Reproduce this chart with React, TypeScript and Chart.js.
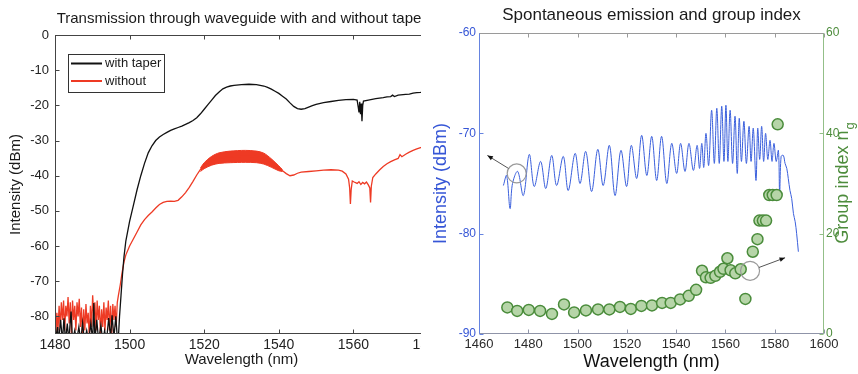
import React, { useEffect, useRef } from "react";
import { Chart, registerables } from "chart.js";

Chart.register(...registerables);

const FONT = "'Liberation Sans', Arial, Helvetica, sans-serif";

// ---------------- Left panel data ----------------
const leftTitle = "Transmission through waveguide with and without taper";
const leftXTicks = [1480, 1500, 1520, 1540, 1560, 1580];
const leftYTicks = [0, -10, -20, -30, -40, -50, -60, -70, -80];

const taperWl = [
  1480.0, 1480.3, 1480.7, 1481.0, 1481.5, 1482.0, 1482.4, 1482.8, 1483.3, 1483.7,
  1484.3, 1484.7, 1485.3, 1485.8, 1486.4, 1486.9, 1487.4, 1487.9, 1488.5, 1489.0,
  1489.6, 1490.1, 1490.4, 1490.7, 1491.2, 1491.7, 1492.3, 1492.8, 1493.3, 1493.8,
  1494.4, 1494.9, 1495.3, 1495.8, 1496.3, 1496.7, 1497.0, 1497.3, 1497.7, 1498.1,
  1498.5, 1499, 1500, 1501, 1502, 1503, 1504, 1505, 1506, 1507,
  1508, 1509, 1510, 1511, 1512, 1513, 1514, 1515, 1516, 1517,
  1518, 1519, 1520, 1521, 1522, 1523, 1524, 1525, 1526, 1527,
  1528, 1530, 1532, 1534, 1536, 1537, 1538, 1539, 1540, 1541,
  1542, 1543, 1544, 1545, 1546, 1547, 1548, 1549, 1550, 1552,
  1554, 1556, 1558, 1560, 1561, 1561.3, 1561.5, 1561.7, 1561.9, 1562.1,
  1562.3, 1562.5, 1562.7, 1564, 1566, 1568, 1569, 1570, 1570.5, 1571,
  1572, 1574, 1575, 1576, 1577, 1578, 1580,
];
const taperDb = [
  -80, -87, -83, -87, -81, -87, -80.5, -87, -82, -87,
  -78.6, -87, -84, -87, -83, -87, -81.9, -87, -84, -87,
  -82, -87, -76.2, -87, -81, -87, -82.5, -87, -84, -87,
  -80.5, -86, -79.7, -86, -80, -86, -86, -80, -74, -68,
  -63, -58.5, -53, -48.5, -44, -40, -36.5, -33.5, -31.5, -30,
  -29, -28.3, -27.7, -27.1, -26.7, -26.3, -25.9, -25.4, -24.9, -24.3,
  -23.5, -22.4, -21.1, -19.8, -18.5, -17.2, -16.2, -15.3, -14.8, -14.5,
  -14.3, -14.1, -14.0, -14.1, -14.5, -14.9, -15.4, -16.0, -16.6, -17.4,
  -18.2, -19.3, -20.3, -20.9, -21.1, -20.9, -20.5, -20.1, -19.7, -19.2,
  -18.9, -18.6, -18.4, -18.3, -18.5, -20.5, -22.0, -19.0, -22.5, -19.5,
  -24.5, -20.0, -18.8, -18.5, -18.1, -17.8, -17.6, -17.5, -17.1, -17.5,
  -17.1, -16.9, -16.8, -16.5, -16.4, -16.3, -16.0,
];

const noTaperWl = [
  1480.0, 1480.2, 1480.5, 1480.8, 1481.1, 1481.4, 1481.7, 1482.0, 1482.3, 1482.6,
  1482.9, 1483.2, 1483.5, 1483.8, 1484.1, 1484.4, 1484.7, 1485.0, 1485.3, 1485.6,
  1485.9, 1486.2, 1486.5, 1486.8, 1487.1, 1487.4, 1487.7, 1488.0, 1488.3, 1488.6,
  1488.9, 1489.2, 1489.5, 1489.8, 1490.1, 1490.4, 1490.7, 1491.0, 1491.3, 1491.6,
  1491.9, 1492.2, 1492.5, 1492.8, 1493.1, 1493.4, 1493.7, 1494.0, 1494.3, 1494.6,
  1494.9, 1495.2, 1495.5, 1495.8, 1496.1, 1496.4, 1496.7, 1497.0, 1497.5, 1498.0,
  1498.5, 1499, 1500, 1501, 1502, 1503, 1504, 1505, 1506, 1507,
  1508, 1509, 1510, 1511, 1512, 1513, 1514, 1515, 1516, 1517,
  1518, 1519, 1520, 1522, 1524, 1526, 1528, 1530, 1532, 1534,
  1536, 1538, 1540, 1541, 1542, 1543, 1544, 1545, 1546, 1548,
  1550, 1552, 1554, 1556, 1557, 1558, 1558.7, 1559.0, 1559.2, 1559.4,
  1559.7, 1560.2, 1561.0, 1561.5, 1562.0, 1562.5, 1563.0, 1563.5, 1564.0, 1564.4,
  1564.6, 1564.8, 1565.2, 1566, 1567, 1568, 1569, 1570, 1571, 1572,
  1572.5, 1573, 1574, 1575, 1576, 1577, 1578, 1579, 1580,
];
const noTaperDb = [
  -80, -86, -79, -84, -77, -83, -76, -81, -75.5, -84,
  -77, -80, -74.5, -82, -76, -85, -75.5, -81, -77, -84,
  -76, -80, -75, -83, -77.5, -86, -78, -84, -76.5, -82,
  -79, -86, -77, -83, -74, -80, -76, -84, -75.5, -81,
  -77, -85, -78, -83, -76, -84, -77.5, -81, -75.5, -84,
  -77, -85, -76.5, -81, -77, -83, -76, -74, -71, -67.5,
  -64.5, -62.5, -60, -58, -56, -54, -52.5, -51.3, -50.3, -49.2,
  -48.2, -47.6, -47.3, -47.2, -47.3, -47.0, -46.0, -44.8, -43.3, -41.6,
  -39.8, -38.2, -37.0, -35.6, -35.0, -34.7, -34.6, -34.5, -34.5, -34.6,
  -35.1, -36.4, -37.9, -38.6, -39.4, -40.0, -39.8, -39.3, -39.0, -38.8,
  -38.6, -38.4, -38.3, -38.4, -38.7, -39.5, -41.0, -43.5, -48.0, -44.0,
  -41.5, -41.8, -42.2, -41.7, -42.5, -41.9, -42.3, -41.8, -42.6, -43.5,
  -47.6, -43.0, -40.5, -39.5, -38.4, -37.4, -36.6, -36.0, -35.5, -35.1,
  -34.0, -34.6, -33.9, -33.3, -32.8, -32.4, -32.0, -31.8, -31.6,
];

// fringe band of the "without" trace
const bandWl = [1519, 1520, 1522, 1524, 1527, 1531, 1534, 1536, 1538, 1540, 1541];
const bandUpper = [-37.8, -36.3, -34.5, -33.5, -33.0, -32.8, -33.0, -33.6, -35.2, -37.2, -38.3];
const bandLower = [-38.8, -38.0, -37.0, -36.5, -36.3, -36.2, -36.3, -36.7, -37.6, -38.6, -38.8];

// ---------------- Right panel data ----------------
const rightTitle = "Spontaneous emission and group index";
const rightXTicks = [1460, 1480, 1500, 1520, 1540, 1560, 1580, 1600];
const rightYTicks = [-90, -80, -70, -60];
const rightY1Ticks = [0, 20, 40, 60];

const emissionWl = [
  1469.9, 1471.2, 1472.6, 1473.6, 1475.7, 1478.0, 1480.4, 1482.4, 1485.0, 1487.1,
  1489.5, 1491.5, 1494.2, 1496.2, 1499.0, 1501.0, 1503.3, 1505.7, 1508.2, 1510.4,
  1512.9, 1515.2, 1517.6, 1519.9, 1521.8, 1524.0, 1526.0, 1528.1, 1530.1, 1532.1,
  1534.1, 1536.2, 1538.2, 1540.2, 1541.8, 1543.6, 1545.2, 1547.0, 1548.5, 1549.5,
  1550.4, 1551.2, 1552.1, 1553.2, 1554.4, 1555.5, 1556.5, 1557.5, 1558.5, 1559.4,
  1560.2, 1561.0, 1561.9, 1562.9, 1563.9, 1564.8, 1565.6, 1566.5, 1567.5, 1568.5,
  1569.6, 1570.4, 1571.3, 1572.4, 1573.1, 1573.9, 1574.7, 1575.5, 1576.3, 1577.2,
  1578.1, 1578.9, 1579.7, 1580.6, 1581.5, 1582.0, 1582.6, 1583.5, 1584.2, 1584.9,
  1585.5, 1586.2, 1586.9, 1587.6, 1588.3, 1588.9, 1589.6,
];
const emissionDb = [
  -75.2, -74.2, -77.5, -75.0, -73.8, -76.2, -72.1, -75.3, -72.8, -75.5,
  -72.2, -75.2, -72.3, -75.7, -72.0, -75.0, -71.8, -75.8, -71.6, -75.2,
  -71.2, -76.2, -71.7, -75.3, -71.2, -74.5, -70.2, -74.2, -70.3, -74.7,
  -70.3, -75.0, -71.0, -74.0, -71.0, -73.8, -71.0, -73.7, -71.2, -73.5,
  -71.0, -73.4, -70.0, -73.2, -67.7, -73.0, -67.5, -73.0, -67.3, -72.8,
  -67.2, -72.8, -67.7, -73.0, -68.3, -74.0, -68.5, -72.8, -68.8, -73.0,
  -69.3, -72.8, -69.5, -74.7, -69.5, -72.6, -69.3, -72.8, -70.0, -72.6,
  -70.7, -72.8, -71.0, -72.8, -71.7, -76.0, -72.3, -72.2, -73.0, -73.5,
  -74.5, -75.7, -76.5, -78.0, -78.8, -80.0, -81.8,
];

const groupWl = [
  1471.5, 1475.5, 1480.2, 1484.8, 1489.6, 1494.5, 1498.6, 1503.4, 1508.3, 1512.9,
  1517.2, 1521.6, 1525.9, 1530.2, 1534.3, 1537.8, 1541.6, 1545.1, 1548.1, 1550.5,
  1552.1, 1554.0, 1555.9, 1557.8, 1559.2, 1560.8, 1562.1, 1564.0, 1566.2, 1568.1,
  1571.1, 1573.0, 1573.8, 1575.2, 1576.5, 1577.8, 1579.2, 1580.8, 1581.2,
];
const groupIndex = [
  5.3, 4.6, 4.8, 4.6, 4.0, 5.9, 4.3, 4.7, 4.9, 4.9,
  5.4, 5.0, 5.6, 5.7, 6.2, 6.2, 6.9, 7.6, 8.8, 12.6,
  11.3, 11.2, 11.6, 12.4, 13.0, 15.1, 12.7, 12.1, 12.9, 7.0,
  16.4, 18.9, 22.6, 22.6, 22.6, 27.7, 27.7, 27.7, 41.8,
];

// callout circles with arrows (data coordinates)
const calloutScale = ["y", "y1"];
const calloutX = [1475.3, 1570.0];
const calloutY = [-74.0, 12.6];
const calloutToX = [1463.4, 1584.2];
const calloutToY = [-72.2, 15.2];

// ---------------- helpers & plugins ----------------
const toPoints = (xs: number[], ys: number[]) => xs.map((x, i) => ({ x, y: ys[i] }));
const fixedTicks = (vals: number[]) => (s: any) => {
  s.ticks = vals.map((v) => ({ value: v }));
};
const plain = (v: any) => String(v);

const framePlugin = {
  id: "frame",
  afterDatasetsDraw(chart: any, _a: any, o: any) {
    const { ctx, chartArea: a, scales } = chart;
    const L = o.tickLength;
    const l = Math.round(a.left) + 0.5;
    const r = Math.round(a.right) - 0.5;
    const t = Math.round(a.top) + 0.5;
    const b = Math.round(a.bottom) - 0.5;
    const seg = (x1: number, y1: number, x2: number, y2: number, c: string) => {
      ctx.strokeStyle = c;
      ctx.beginPath();
      ctx.moveTo(x1, y1);
      ctx.lineTo(x2, y2);
      ctx.stroke();
    };
    ctx.save();
    ctx.lineWidth = 1;
    const xs = scales.x;
    xs.ticks.forEach((tk: any) => {
      const px = Math.round(xs.getPixelForValue(tk.value)) + 0.5;
      seg(px, t, px, t + L, o.topColor);
      seg(px, b, px, b - L, o.bottomColor);
    });
    const yl = scales[o.leftScale];
    yl.ticks.forEach((tk: any) => {
      const py = Math.round(yl.getPixelForValue(tk.value)) + 0.5;
      seg(l, py, l + L, py, o.leftColor);
      if (!o.rightScale) seg(r, py, r - L, py, o.rightColor);
    });
    if (o.rightScale) {
      const yr = scales[o.rightScale];
      yr.ticks.forEach((tk: any) => {
        const py = Math.round(yr.getPixelForValue(tk.value)) + 0.5;
        seg(r, py, r - L, py, o.rightColor);
      });
    }
    seg(l - 0.5, t, r + 0.5, t, o.topColor);
    seg(l - 0.5, b, r + 0.5, b, o.bottomColor);
    seg(l, t, l, b, o.leftColor);
    seg(r, t, r, b, o.rightColor);
    ctx.restore();
  },
};

const boxLegendPlugin = {
  id: "boxLegend",
  afterDatasetsDraw(chart: any, _a: any, o: any) {
    if (!o || !o.display) return;
    const { ctx, chartArea: a } = chart;
    const items = chart.data.datasets.filter((d: any) => d.showInLegend);
    const x0 = Math.round(a.left + o.offsetX);
    const y0 = Math.round(a.top + o.offsetY);
    ctx.save();
    ctx.fillStyle = "#ffffff";
    ctx.fillRect(x0, y0, o.width, o.height);
    ctx.strokeStyle = "#333333";
    ctx.lineWidth = 1;
    ctx.strokeRect(x0 + 0.5, y0 + 0.5, o.width, o.height);
    ctx.font = `${o.fontSize}px ${FONT}`;
    ctx.textBaseline = "middle";
    ctx.textAlign = "left";
    items.forEach((d: any, i: number) => {
      const cy = y0 + o.rowTop + i * o.rowGap;
      ctx.strokeStyle = d.borderColor;
      ctx.lineWidth = 2;
      ctx.beginPath();
      ctx.moveTo(x0 + 3, cy);
      ctx.lineTo(x0 + 34, cy);
      ctx.stroke();
      ctx.fillStyle = "#1a1a1a";
      ctx.fillText(d.label, x0 + 37, cy);
    });
    ctx.restore();
  },
};

const calloutPlugin = {
  id: "callouts",
  afterDatasetsDraw(chart: any, _a: any, o: any) {
    if (!o || !o.display) return;
    const { ctx, scales } = chart;
    ctx.save();
    calloutX.forEach((vx, i) => {
      const ys = scales[calloutScale[i]];
      const cx = scales.x.getPixelForValue(vx);
      const cy = ys.getPixelForValue(calloutY[i]);
      const tx = scales.x.getPixelForValue(calloutToX[i]);
      const ty = ys.getPixelForValue(calloutToY[i]);
      const r = o.radius;
      ctx.strokeStyle = o.circleColor;
      ctx.lineWidth = 1.2;
      ctx.beginPath();
      ctx.arc(cx, cy, r, 0, Math.PI * 2);
      ctx.stroke();
      const ang = Math.atan2(ty - cy, tx - cx);
      const sx = cx + r * Math.cos(ang);
      const sy = cy + r * Math.sin(ang);
      ctx.strokeStyle = o.arrowColor;
      ctx.lineWidth = 1;
      ctx.beginPath();
      ctx.moveTo(sx, sy);
      ctx.lineTo(tx, ty);
      ctx.stroke();
      const h = 6;
      ctx.fillStyle = "#111";
      ctx.beginPath();
      ctx.moveTo(tx, ty);
      ctx.lineTo(tx - h * Math.cos(ang - 0.4), ty - h * Math.sin(ang - 0.4));
      ctx.lineTo(tx - h * Math.cos(ang + 0.4), ty - h * Math.sin(ang + 0.4));
      ctx.closePath();
      ctx.fill();
    });
    ctx.restore();
  },
};

const sideTitlePlugin = {
  id: "sideTitle",
  afterDraw(chart: any, _a: any, o: any) {
    if (!o || !o.text) return;
    const { ctx, chartArea: a } = chart;
    const sc = chart.scales[o.scale];
    const x = sc.right - o.offset;
    const y = (a.top + a.bottom) / 2;
    ctx.save();
    ctx.translate(x, y);
    ctx.rotate(-Math.PI / 2);
    ctx.textBaseline = "middle";
    ctx.textAlign = "left";
    const mainFont = `${o.size}px ${FONT}`;
    const subFont = `${o.subSize}px ${FONT}`;
    ctx.font = mainFont;
    const w1 = ctx.measureText(o.text).width;
    ctx.font = subFont;
    const w2 = ctx.measureText(o.sub).width;
    const start = -(w1 + w2) / 2;
    ctx.fillStyle = o.color;
    ctx.font = mainFont;
    ctx.fillText(o.text, start, 0);
    ctx.font = subFont;
    ctx.fillText(o.sub, start + w1 + 1, o.subShift);
    ctx.restore();
  },
};

// ---------------- chart configs ----------------
const RED = "#ee3a24";

function leftConfig(): any {
  return {
    type: "line",
    data: {
      datasets: [
        { label: "with taper", data: toPoints(taperWl, taperDb), borderColor: "#111111", borderWidth: 1.3, pointRadius: 0, showInLegend: true, fill: false },
        { label: "without", data: toPoints(noTaperWl, noTaperDb), borderColor: RED, borderWidth: 1.3, pointRadius: 0, showInLegend: true, fill: false },
        { label: "without (fringe max)", data: toPoints(bandWl, bandUpper), borderColor: RED, borderWidth: 1, pointRadius: 0, fill: "+1", backgroundColor: RED, tension: 0.3 },
        { label: "without (fringe min)", data: toPoints(bandWl, bandLower), borderColor: RED, borderWidth: 1, pointRadius: 0, fill: false, tension: 0.3 },
      ],
    },
    options: {
      responsive: false,
      animation: false,
      events: [],
      layout: { padding: { left: 0, right: 32, top: 0, bottom: 0 } },
      plugins: {
        legend: { display: false },
        tooltip: { enabled: false },
        title: {
          display: true,
          text: leftTitle,
          fullSize: false,
          color: "#1a1a1a",
          font: { family: FONT, size: 15, weight: "normal" },
          padding: { top: 10, bottom: 7 },
        },
        frame: { tickLength: 4, topColor: "#444", bottomColor: "#444", leftColor: "#444", rightColor: "#444", leftScale: "y" },
        boxLegend: { display: true, offsetX: 13, offsetY: 19, width: 96, height: 38, rowTop: 9.5, rowGap: 17.5, fontSize: 13 },
      },
      scales: {
        x: {
          type: "linear",
          min: 1480,
          max: 1580,
          grid: { display: false, drawTicks: false },
          border: { display: false },
          ticks: { font: { family: FONT, size: 14 }, color: "#222", padding: 3, maxRotation: 0, autoSkip: false, callback: plain },
          afterBuildTicks: fixedTicks(leftXTicks),
          afterFit: (s: any) => { s.height = 40; s.paddingLeft = 0; s.paddingRight = 0; },
          title: { display: true, text: "Wavelength (nm)", color: "#1a1a1a", font: { family: FONT, size: 15 }, padding: { top: 0, bottom: 5 } },
        },
        y: {
          type: "linear",
          min: -85,
          max: 0,
          grid: { display: false, drawTicks: false },
          border: { display: false },
          ticks: { font: { family: FONT, size: 13 }, color: "#222", padding: 6, autoSkip: false, callback: plain },
          afterBuildTicks: fixedTicks(leftYTicks),
          afterFit: (s: any) => { s.width = 55; s.paddingTop = 0; s.paddingBottom = 0; },
          title: { display: true, text: "Intensity (dBm)", color: "#1a1a1a", font: { family: FONT, size: 15 }, padding: { top: 7, bottom: 0 } },
        },
      },
    },
    plugins: [framePlugin, boxLegendPlugin],
  };
}

const BLUE = "#3a5fdc";
const BLUE_TXT = "#3656d6";
const GREEN_TXT = "#4d8c3c";

function rightConfig(): any {
  return {
    type: "line",
    data: {
      datasets: [
        {
          label: "Group index",
          data: toPoints(groupWl, groupIndex),
          yAxisID: "y1",
          showLine: false,
          pointRadius: 5.5,
          pointBorderWidth: 1.5,
          pointBackgroundColor: "#b6d5a8",
          pointBorderColor: "#4a8c3b",
        },
        {
          label: "Spontaneous emission",
          data: toPoints(emissionWl, emissionDb),
          yAxisID: "y",
          borderColor: BLUE,
          borderWidth: 1,
          pointRadius: 0,
          fill: false,
          tension: 0.35,
        },
      ],
    },
    options: {
      responsive: false,
      animation: false,
      events: [],
      layout: { padding: 0 },
      plugins: {
        legend: { display: false },
        tooltip: { enabled: false },
        title: {
          display: true,
          text: rightTitle,
          fullSize: false,
          color: "#1a1a1a",
          font: { family: FONT, size: 17, weight: "normal" },
          padding: { top: 5.3, bottom: 7.3 },
        },
        frame: { tickLength: 4, topColor: "#9a9a9a", bottomColor: "#8f94a8", leftColor: "#6684e0", rightColor: "#93bf88", leftScale: "y", rightScale: "y1" },
        callouts: { display: true, radius: 9.5, circleColor: "#9a9a9a", arrowColor: "#555" },
        sideTitle: { text: "Group index n", sub: "g", scale: "y1", offset: 15, size: 18, subSize: 13, subShift: 7, color: GREEN_TXT },
      },
      scales: {
        x: {
          type: "linear",
          min: 1460,
          max: 1600,
          grid: { display: false, drawTicks: false },
          border: { display: false },
          ticks: { font: { family: FONT, size: 13 }, color: "#2a2a2a", padding: 3, maxRotation: 0, autoSkip: false, callback: plain },
          afterBuildTicks: fixedTicks(rightXTicks),
          afterFit: (s: any) => { s.height = 40; s.paddingLeft = 0; s.paddingRight = 0; },
          title: { display: true, text: "Wavelength (nm)", color: "#111", font: { family: FONT, size: 18 }, padding: { top: 0, bottom: 1.5 } },
        },
        y: {
          type: "linear",
          position: "left",
          min: -90,
          max: -60,
          grid: { display: false, drawTicks: false },
          border: { display: false },
          ticks: { font: { family: FONT, size: 12 }, color: BLUE_TXT, padding: 3, autoSkip: false, callback: plain },
          afterBuildTicks: fixedTicks(rightYTicks),
          afterFit: (s: any) => { s.width = 49; s.paddingTop = 0; s.paddingBottom = 0; },
          title: { display: true, text: "Intensity (dBm)", color: BLUE_TXT, font: { family: FONT, size: 18 }, padding: { top: 0, bottom: 0 } },
        },
        y1: {
          type: "linear",
          position: "right",
          min: 0,
          max: 60,
          grid: { display: false, drawTicks: false },
          border: { display: false },
          ticks: { font: { family: FONT, size: 12 }, color: GREEN_TXT, padding: 2, autoSkip: false, callback: plain },
          afterBuildTicks: fixedTicks(rightY1Ticks),
          afterFit: (s: any) => { s.width = 34; s.paddingTop = 0; s.paddingBottom = 0; },
          title: { display: false },
        },
      },
    },
    plugins: [framePlugin, calloutPlugin, sideTitlePlugin],
  };
}

function ChartCanvas({ makeConfig, width, height }: { makeConfig: () => any; width: number; height: number }) {
  const ref = useRef<HTMLCanvasElement | null>(null);
  useEffect(() => {
    if (!ref.current) return;
    const chart = new Chart(ref.current, makeConfig());
    return () => chart.destroy();
  }, []);
  return <canvas ref={ref} width={width} height={height} style={{ display: "block" }} />;
}

export default function App() {
  return (
    <div style={{ position: "absolute", left: 0, top: 0, width: 858, height: 374, background: "#fff", overflow: "hidden" }}>
      <div style={{ position: "absolute", left: 0, top: 0, width: 421, height: 374, overflow: "hidden" }}>
        <ChartCanvas makeConfig={leftConfig} width={460} height={374} />
      </div>
      <div style={{ position: "absolute", left: 430, top: 0, width: 428, height: 374, overflow: "hidden" }}>
        <ChartCanvas makeConfig={rightConfig} width={428} height={374} />
      </div>
    </div>
  );
}
